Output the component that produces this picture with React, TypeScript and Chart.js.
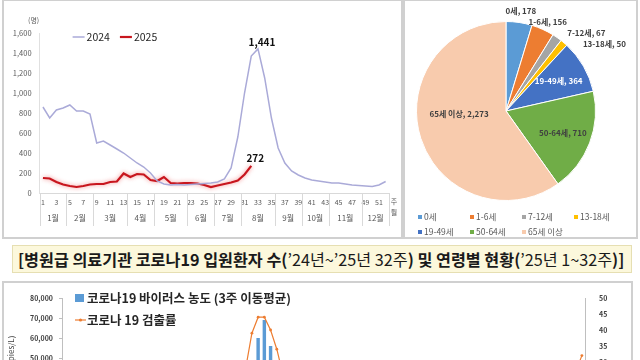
import React, { useEffect, useRef } from "react";
import { Chart, registerables } from "chart.js";
Chart.register(...registerables);

const FONT = "'Noto Sans CJK KR', 'Noto Sans', sans-serif";

// ---------- Top-left: weekly inpatients ----------
const weekLabels = [
  "1","2","3","4","5","6","7","8","9","10","11","12","13","14","15","16","17","18","19","20",
  "21","22","23","24","25","26","27","28","29","30","31","32","33","34","35","36","37","38","39","40",
  "41","42","43","44","45","46","47","48","49","50","51","52",
];
const series2024 = [
  860, 750, 830, 850, 880, 820, 820, 790, 500, 520, 480, 440, 400, 350, 300, 260, 200, 120, 90, 80,
  85, 80, 85, 90, 95, 100, 110, 140, 250, 560, 1000, 1370, 1441, 1150, 750, 450, 300, 220, 180, 150,
  130, 120, 110, 100, 100, 90, 80, 75, 70, 65, 80, 115,
];
const series2025 = [
  150, 145, 110, 85, 70, 60, 70, 85, 90, 90, 110, 115, 195, 160, 190, 185, 130, 120, 160, 100,
  95, 100, 100, 95, 80, 60, 75, 90, 105, 125, 185, 272,
];
const monthNames = ["1월","2월","3월","4월","5월","6월","7월","8월","9월","10월","11월","12월"];
const monthStartWeeks = [1, 5, 9, 14, 18, 23, 27, 31, 36, 40, 44, 49];

// ---------- Top-right: age groups ----------
const ageGroups = ["0세", "1-6세", "7-12세", "13-18세", "19-49세", "50-64세", "65세 이상"];
const ageCounts = [178, 156, 67, 50, 364, 710, 2273];
const ageColors = ["#5B9BD5", "#ED7D31", "#A5A5A5", "#FFC000", "#4472C4", "#70AD47", "#F8CBAD"];

// ---------- Bottom: sewage surveillance ----------
const sewerWeekLabels = [...weekLabels.map((w) => "24-" + w), ...weekLabels.slice(0, 32).map((w) => "25-" + w)];
const virusConc = [
  30000, 27000, 24000, 22000, 20000, 18000, 16000, 14000, 12000, 11000, 10000, 9000, 8500, 8000, 7500, 7000, 6500, 6000, 5500, 5000,
  5000, 5500, 6000, 7000, 8000, 10000, 13000, 18000, 26000, 38000, 48000, 60000, 69000, 56000, 45000, 35000, 27000, 21000, 17000, 14000,
  12000, 11000, 10000, 9500, 9000, 9000, 9500, 10000, 11000, 12000, 13000, 14000,
  15000, 14000, 12000, 10000, 9000, 8000, 7500, 7000, 7000, 7500, 8000, 8500, 9000, 9500, 10000, 10500, 10000, 9500, 9000, 8500,
  8000, 8000, 8500, 9000, 10000, 11000, 13000, 15000, 18000, 22000, 27000, 33000,
];
const detectRate = [
  12, 11, 10, 9, 8, 8, 7, 7, 6, 6, 5, 5, 5, 4, 4, 4, 4, 4, 4, 4,
  4, 5, 5, 6, 7, 9, 12, 16, 21, 28, 39, 44, 44, 40, 34, 26, 20, 15, 12, 10,
  9, 8, 7, 7, 6, 6, 6, 7, 7, 8, 8, 9,
  9, 8, 7, 7, 6, 6, 5, 5, 5, 5, 5, 6, 6, 6, 6, 6, 6, 6, 5, 5,
  5, 5, 6, 6, 7, 8, 10, 13, 17, 22, 27, 32,
];

const fmt = (v: number) => v.toLocaleString("en-US");

const linePlugin = {
  id: "lineExtras",
  beforeDatasetDraw(chart: any, args: any) {
    if (args.index === 1) {
      const ctx = chart.ctx;
      ctx.save();
      ctx.shadowColor = "rgba(235,60,60,0.6)";
      ctx.shadowBlur = 4;
    }
  },
  afterDatasetDraw(chart: any, args: any) {
    if (args.index === 1) chart.ctx.restore();
  },
  afterDraw(chart: any) {
    const { ctx, chartArea: ca } = chart;
    const x = chart.scales.x;
    ctx.save();
    const step = x.getPixelForValue(1) - x.getPixelForValue(0);
    ctx.strokeStyle = "#D9D9D9";
    ctx.lineWidth = 1;
    ctx.fillStyle = "#595959";
    ctx.font = `8px ${FONT}`;
    ctx.textAlign = "center";
    ctx.textBaseline = "middle";
    monthStartWeeks.forEach((s, m) => {
      const e = m < monthStartWeeks.length - 1 ? monthStartWeeks[m + 1] - 1 : weekLabels.length;
      const cx = (x.getPixelForValue(s - 1) + x.getPixelForValue(e - 1)) / 2;
      ctx.fillText(monthNames[m], cx, ca.bottom + 25);
      const bx = Math.round(x.getPixelForValue(s - 1) - step / 2) + 0.5;
      ctx.beginPath();
      ctx.moveTo(bx, ca.bottom);
      ctx.lineTo(bx, ca.bottom + 33);
      ctx.stroke();
    });
    const rx = Math.round(x.getPixelForValue(weekLabels.length - 1) + step / 2) + 0.5;
    ctx.beginPath();
    ctx.moveTo(rx, ca.bottom);
    ctx.lineTo(rx, ca.bottom + 33);
    ctx.stroke();
    ctx.font = `7px ${FONT}`;
    ctx.fillText("(명)", ca.left - 6, ca.top - 13);
    ctx.fillText("주", ca.right + 5, ca.bottom + 8);
    ctx.fillText("월", ca.right + 5, ca.bottom + 19);

    // value labels
    ctx.font = `bold 10px ${FONT}`;
    ctx.fillStyle = "#111";
    ctx.textBaseline = "bottom";
    const ds0 = chart.data.datasets[0].data as number[];
    const maxIdx = ds0.indexOf(Math.max(...ds0));
    const p0 = chart.getDatasetMeta(0).data[maxIdx];
    ctx.fillText(fmt(ds0[maxIdx]), p0.x + 4, p0.y - 2);
    const ds1 = chart.data.datasets[1].data as number[];
    const lastIdx = ds1.length - 1;
    const p1 = chart.getDatasetMeta(1).data[lastIdx];
    ctx.fillText(fmt(ds1[lastIdx]), p1.x + 4, p1.y - 3);

    // legend
    ctx.font = `10.5px ${FONT}`;
    ctx.textAlign = "left";
    ctx.textBaseline = "middle";
    let lx = ca.left + 33;
    const ly = ca.top + 4;
    chart.data.datasets.forEach((ds: any) => {
      ctx.strokeStyle = ds.borderColor;
      ctx.lineWidth = ds.borderWidth;
      ctx.beginPath();
      ctx.moveTo(lx, ly);
      ctx.lineTo(lx + 12, ly);
      ctx.stroke();
      ctx.fillStyle = "#262626";
      ctx.fillText(ds.label, lx + 14, ly);
      lx += 14 + ctx.measureText(ds.label).width + 10;
    });
    ctx.restore();
  },
};

const piePlugin = {
  id: "pieExtras",
  afterDatasetsDraw(chart: any) {
    const { ctx, chartArea: ca } = chart;
    const meta = chart.getDatasetMeta(0);
    const data = chart.data.datasets[0].data as number[];
    const total = data.reduce((a, b) => a + b, 0);
    ctx.save();
    ctx.font = `bold 8px ${FONT}`;
    ctx.textAlign = "center";
    ctx.textBaseline = "middle";
    let prevY = -Infinity;
    meta.data.forEach((arc: any, i: number) => {
      const { x, y, startAngle, endAngle, outerRadius } = arc.getProps(
        ["x", "y", "startAngle", "endAngle", "outerRadius"],
        true
      );
      const mid = (startAngle + endAngle) / 2;
      const share = data[i] / total;
      const text = `${chart.data.labels[i]}, ${fmt(data[i])}`;
      const w = ctx.measureText(text).width;
      if (share < 0.06) {
        let lx = x + Math.cos(mid) * (outerRadius + 12);
        let ly = y + Math.sin(mid) * (outerRadius + 12);
        ly = Math.max(ly, prevY + 11);
        prevY = ly;
        const dy = ly - y;
        if (Math.abs(dy) < outerRadius) {
          const edge = x + Math.sqrt(outerRadius * outerRadius - dy * dy);
          lx = Math.max(lx, edge + 18 + w / 2);
        }
        ctx.fillStyle = "#404040";
        ctx.fillText(text, lx, ly);
      } else {
        const rr = share > 0.5 ? 0.55 : 0.68;
        const lx = x + Math.cos(mid) * outerRadius * rr;
        const ly = y + Math.sin(mid) * outerRadius * rr - (share > 0.5 ? 12 : 0);
        ctx.fillStyle = i === 4 ? "#FFFFFF" : "#404040";
        ctx.fillText(text, lx, ly);
      }
    });
    // legend grid
    ctx.font = `8.5px ${FONT}`;
    ctx.textAlign = "left";
    const labels = chart.data.labels as string[];
    const colors = chart.data.datasets[0].backgroundColor as string[];
    labels.forEach((lab, i) => {
      const col = i < 4 ? i : i - 4;
      const row = i < 4 ? 0 : 1;
      const mx = ca.left + 2 + col * 52;
      const my = ca.bottom + 16 + row * 15;
      ctx.fillStyle = colors[i];
      ctx.fillRect(mx, my - 2, 4, 4);
      ctx.fillStyle = "#595959";
      ctx.fillText(lab, mx + 6, my);
    });
    ctx.restore();
  },
};

const comboPlugin = {
  id: "comboLegend",
  afterDraw(chart: any) {
    const { ctx, chartArea: ca } = chart;
    ctx.save();
    ctx.font = `bold 12.5px ${FONT}`;
    ctx.textBaseline = "middle";
    ctx.textAlign = "left";
    const bar = chart.data.datasets.find((d: any) => d.type === "bar");
    const line = chart.data.datasets.find((d: any) => d.type === "line");
    const x0 = ca.left + 13;
    ctx.fillStyle = bar.backgroundColor;
    ctx.fillRect(x0, ca.top - 4, 9, 8);
    ctx.fillStyle = "#262626";
    ctx.fillText(bar.label, x0 + 12, ca.top);
    const y2 = ca.top + 22;
    ctx.strokeStyle = line.borderColor;
    ctx.lineWidth = 1.2;
    ctx.beginPath();
    ctx.moveTo(x0, y2);
    ctx.lineTo(x0 + 11, y2);
    ctx.stroke();
    ctx.fillStyle = line.borderColor;
    ctx.beginPath();
    ctx.arc(x0 + 5.5, y2, 1.6, 0, Math.PI * 2);
    ctx.fill();
    ctx.fillStyle = "#262626";
    ctx.fillText(line.label, x0 + 12, y2);
    ctx.restore();
  },
};

function LineChart() {
  const ref = useRef<HTMLCanvasElement>(null);
  useEffect(() => {
    const chart = new Chart(ref.current as HTMLCanvasElement, {
      type: "line",
      data: {
        labels: weekLabels,
        datasets: [
          {
            label: "2024",
            data: series2024,
            borderColor: "#AAAAD8",
            borderWidth: 1.5,
            pointRadius: 0,
            tension: 0,
          },
          {
            label: "2025",
            data: series2025,
            borderColor: "#C8161E",
            borderWidth: 2.2,
            pointRadius: 0,
            tension: 0,
          },
        ],
      },
      options: {
        responsive: false,
        animation: false,
        layout: { padding: { left: 4, right: 11, top: 33, bottom: 0 } },
        plugins: { legend: { display: false }, tooltip: { enabled: false } },
        scales: {
          x: {
            offset: true,
            grid: { display: false, drawTicks: false },
            border: { display: true, color: "#D9D9D9" },
            ticks: {
              autoSkip: false,
              maxRotation: 0,
              padding: 5,
              color: "#595959",
              font: { size: 7, family: FONT },
              callback: (_v: any, i: number) => (i % 2 === 0 ? weekLabels[i] : ""),
            },
            afterFit: (s: any) => {
              s.height = 43;
            },
          },
          y: {
            min: 0,
            max: 1600,
            grid: { display: false, drawTicks: false },
            border: { display: true, color: "#E0E0E0" },
            ticks: {
              stepSize: 200,
              padding: 8,
              color: "#595959",
              font: { size: 7.5, family: FONT },
              callback: (v: any) => fmt(Number(v)),
            },
            afterFit: (s: any) => {
              s.width = 35.6;
            },
          },
        },
      },
      plugins: [linePlugin],
    } as any);
    return () => chart.destroy();
  }, []);
  return <canvas ref={ref} width={400} height={236} style={{ position: "absolute", left: 0, top: 0 }} />;
}

function PieChart() {
  const ref = useRef<HTMLCanvasElement>(null);
  useEffect(() => {
    const chart = new Chart(ref.current as HTMLCanvasElement, {
      type: "pie",
      data: {
        labels: ageGroups,
        datasets: [
          {
            data: ageCounts,
            backgroundColor: ageColors,
            borderColor: "#FFFFFF",
            borderWidth: 1,
          },
        ],
      },
      options: {
        responsive: false,
        animation: false,
        layout: { padding: { left: 12, right: 41, top: 21, bottom: 37 } },
        plugins: { legend: { display: false }, tooltip: { enabled: false } },
      },
      plugins: [piePlugin],
    } as any);
    return () => chart.destroy();
  }, []);
  return <canvas ref={ref} width={233} height={238} style={{ position: "absolute", left: 404, top: 0 }} />;
}

function ComboChart() {
  const ref = useRef<HTMLCanvasElement>(null);
  useEffect(() => {
    const chart = new Chart(ref.current as HTMLCanvasElement, {
      data: {
        labels: sewerWeekLabels,
        datasets: [
          {
            type: "line",
            label: "코로나 19 검출률",
            data: detectRate,
            yAxisID: "y1",
            borderColor: "#ED7D31",
            borderWidth: 1.2,
            pointRadius: 1.4,
            pointBackgroundColor: "#ED7D31",
            pointBorderWidth: 0,
            order: 0,
          },
          {
            type: "bar",
            label: "코로나19 바이러스 농도 (3주 이동평균)",
            data: virusConc,
            yAxisID: "y",
            backgroundColor: "#5B9BD5",
            barPercentage: 0.55,
            categoryPercentage: 1,
            order: 1,
          },
        ],
      },
      options: {
        responsive: false,
        animation: false,
        layout: { padding: { left: 4, right: 8, top: 15, bottom: 25 } },
        plugins: { legend: { display: false }, tooltip: { enabled: false } },
        scales: {
          x: { display: false },
          y: {
            position: "left",
            min: 0,
            max: 80000,
            grid: { drawOnChartArea: false, drawTicks: true, tickLength: 3, color: "#BFBFBF" },
            border: { display: true, color: "#BFBFBF" },
            title: { display: true, text: "바이러스 농도 (copies/L)", font: { size: 8, family: FONT }, color: "#404040", padding: 2 },
            ticks: {
              stepSize: 10000,
              padding: 6,
              color: "#404040",
              font: { size: 7, weight: "bold", family: FONT },
              callback: (v: any) => fmt(Number(v)),
            },
            afterFit: (s: any) => {
              s.width = 58;
            },
          },
          y1: {
            position: "right",
            min: 0,
            max: 50,
            grid: { display: false },
            border: { display: true, color: "#BFBFBF" },
            title: { display: true, text: "검출률(%)", font: { size: 8, family: FONT }, color: "#404040", padding: 2 },
            ticks: {
              stepSize: 5,
              padding: 6,
              color: "#404040",
              font: { size: 7, weight: "bold", family: FONT },
            },
            afterFit: (s: any) => {
              s.width = 47;
            },
          },
        },
      },
      plugins: [comboPlugin],
    } as any);
    return () => chart.destroy();
  }, []);
  return <canvas ref={ref} width={640} height={200} style={{ position: "absolute", left: 0, top: 283 }} />;
}

export default function App() {
  const panel = (left: number, top: number, width: number, height: number) => (
    <div
      style={{
        position: "absolute",
        left,
        top,
        width,
        height,
        border: "2px solid #D0D0D0",
        boxSizing: "border-box",
      }}
    />
  );
  return (
    <div
      style={{
        position: "fixed",
        left: 0,
        top: 0,
        width: 640,
        height: 360,
        overflow: "hidden",
        background: "#FFFFFF",
        fontFamily: FONT,
      }}
    >
      {panel(2, -1, 401, 240)}
      {panel(403, -1, 235, 240)}
      {panel(2, 281, 631, 120)}
      <LineChart />
      <PieChart />
      <div
        style={{
          position: "absolute",
          left: 12,
          top: 245,
          width: 620,
          height: 28,
          boxSizing: "border-box",
          background: "#FCF8DC",
          border: "1px solid #E6DFB2",
          fontSize: 16.2,
          lineHeight: "26px",
          color: "#1A1A1A",
          paddingLeft: 5,
          whiteSpace: "nowrap",
          overflow: "hidden",
        }}
      >
        <b>[병원급 의료기관 코로나19 입원환자 수(</b>
        <span>’24년~’25년 32주</span>
        <b>) 및 연령별 현황(</b>
        <span>’25년 1~32주</span>
        <b>)]</b>
      </div>
      <ComboChart />
    </div>
  );
}
